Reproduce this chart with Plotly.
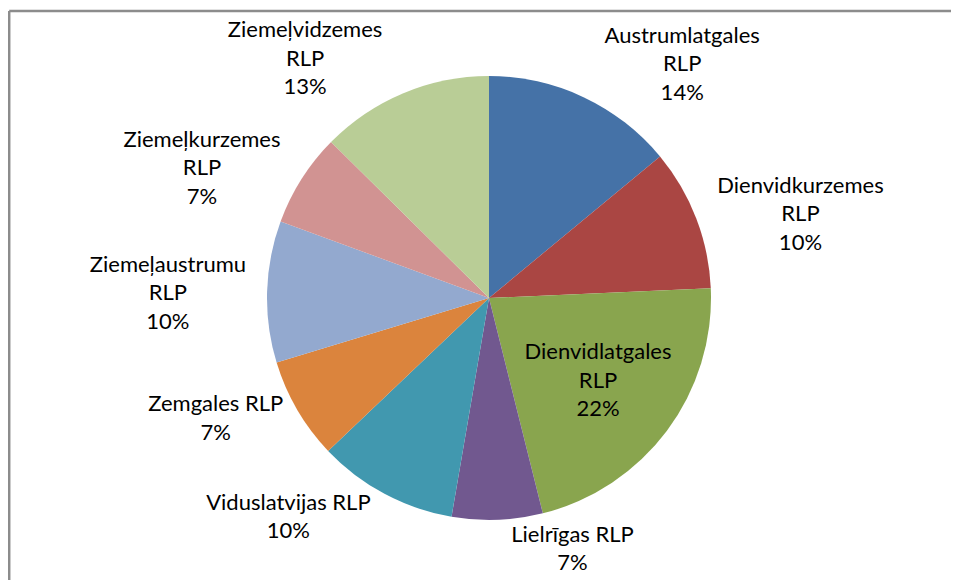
import plotly.graph_objects as go

categories = [
    "Austrumlatgales RLP", "Dienvidkurzemes RLP", "Dienvidlatgales RLP",
    "Lielrīgas RLP", "Viduslatvijas RLP", "Zemgales RLP",
    "Ziemeļaustrumu RLP", "Ziemeļkurzemes RLP", "Ziemeļvidzemes RLP",
]
display_labels = [
    "Austrumlatgales<br>RLP", "Dienvidkurzemes<br>RLP", "Dienvidlatgales<br>RLP",
    "Lielrīgas RLP", "Viduslatvijas RLP", "Zemgales RLP",
    "Ziemeļaustrumu<br>RLP", "Ziemeļkurzemes<br>RLP", "Ziemeļvidzemes<br>RLP",
]
shares = [14.0, 10.3, 21.8, 6.6, 10.2, 7.4, 10.3, 6.8, 12.6]
colors = ["#4572A7", "#AA4643", "#89A54E", "#71588F", "#4198AF",
          "#DB843D", "#93A9CF", "#D19392", "#B9CD96"]
text_positions = ["outside", "outside", "inside", "outside", "outside",
                  "outside", "outside", "outside", "outside"]

# page body has an 8px margin, so the figure is drawn 8px right/down
W, H = 951, 572
cx, cy, R = 481, 290, 222
FONT = dict(family="Lato", size=22, color="#000000")

fig = go.Figure(go.Pie(
    labels=categories,
    values=shares,
    customdata=display_labels,
    texttemplate="%{customdata}<br>%{percent:.0%}",
    textposition=text_positions,
    insidetextorientation="horizontal",
    sort=False,
    direction="clockwise",
    rotation=0,
    marker=dict(colors=colors, line=dict(width=0)),
    textfont=FONT,
    outsidetextfont=FONT,
    insidetextfont=FONT,
    showlegend=False,
    hoverinfo="label+percent",
    domain=dict(x=[(cx - R) / W, (cx + R) / W],
                y=[1 - (cy + R) / H, 1 - (cy - R) / H]),
))

border = dict(color="#8C8C8C", width=2.5)
fig.update_layout(
    width=W, height=H,
    margin=dict(l=0, r=0, t=0, b=0),
    paper_bgcolor="white",
    plot_bgcolor="white",
    font=FONT,
    shapes=[
        dict(type="line", xref="paper", yref="paper",
             x0=1.2 / W, x1=1.2 / W, y0=0, y1=1 - 3 / H, line=border),
        dict(type="line", xref="paper", yref="paper",
             x0=1.2 / W, x1=1, y0=1 - 3 / H, y1=1 - 3 / H, line=border),
    ],
)

fig.write_html("out.html")
